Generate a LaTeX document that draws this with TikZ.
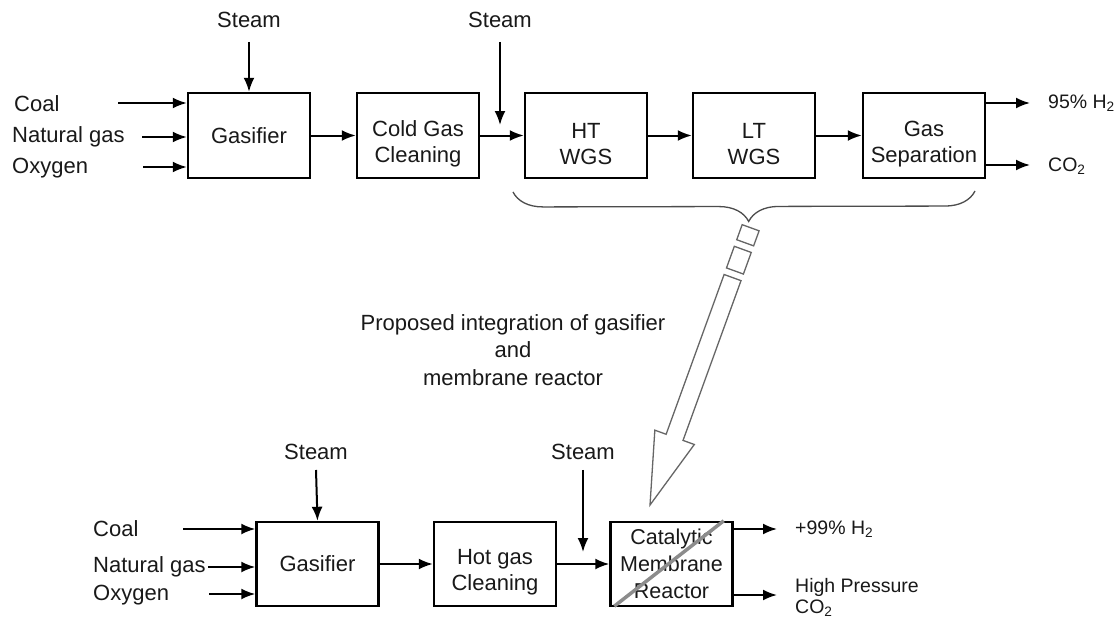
\documentclass[tikz,border=0pt]{standalone}
\usepackage{fontspec}
\setmainfont{Liberation Sans}
\usetikzlibrary{arrows.meta,decorations.pathreplacing}

% first line pushed up so that two-line labels sit a little low in the box
\newcommand{\twolines}[2]{\rule{0pt}{32pt}#1\\#2}

\begin{document}
\begin{tikzpicture}[x=1pt,y=-1pt,
    unit/.style={draw,line width=2.4pt,minimum width=122pt,minimum height=85pt,
                 inner sep=0pt,align=center,text=black!90,
                 font=\fontsize{22}{26}\selectfont},
    lbl/.style={inner sep=2pt,text=black!90,font=\fontsize{22}{26}\selectfont},
    outlbl/.style={inner sep=2pt,anchor=west,align=left,text=black!90,
                   font=\fontsize{19.5}{21}\selectfont},
    flow/.style={line width=2pt,-{Latex[length=14pt,width=11pt]}}]

    \fill[white] (0,0) rectangle (1119,618);

    % conventional line
    \node[unit] (gasA)   at (249,135.5) {Gasifier};
    \node[unit] (cleanA) at (418,135.5) {\twolines{Cold Gas}{Cleaning}};
    \node[unit] (htwgs)  at (586,135.5) {\twolines{HT}{WGS}};
    \node[unit] (ltwgs)  at (754,135.5) {\twolines{LT}{WGS}};
    \node[unit] (gassep) at (924,135.5) {\twolines{Gas}{Separation}};

    \node[lbl,anchor=west] (coalA) at (12,104) {Coal};
    \node[lbl,anchor=west] (natA)  at (10,137) {Natural gas};
    \node[lbl,anchor=west] (oxyA)  at (10,168) {Oxygen};
    \coordinate (coalAin) at (118,103);
    \coordinate (natAin)  at (142,137);
    \coordinate (oxyAin)  at (143,167);
    \draw[flow] (coalAin) -- (coalAin -| gasA.west);
    \draw[flow] (natAin) -- (natAin -| gasA.west);
    \draw[flow] (oxyAin) -- (oxyAin -| gasA.west);

    \node[lbl] (steamA) at (249,20) {Steam};
    \node[lbl] (steamB) at (500,20) {Steam};
    \coordinate (steamBend) at (500,125);
    \draw[flow] ([yshift=-12pt]steamA.south) -- (gasA.north);
    \draw[flow] ([yshift=-12pt]steamB.south) -- (steamBend);

    \draw[flow] (gasA) -- (cleanA);
    \draw[flow] (cleanA) -- (htwgs);
    \draw[flow] (htwgs) -- (ltwgs);
    \draw[flow] (ltwgs) -- (gassep);

    \coordinate (h2Aend)  at (1030,103);
    \coordinate (co2Aend) at (1030,165);
    \draw[flow] (h2Aend -| gassep.east) -- (h2Aend);
    \draw[flow] (co2Aend -| gassep.east) -- (co2Aend);
    \node[outlbl] (h2A)  at (1046,103) {95\% H\textsubscript{2}};
    \node[outlbl] (co2A) at (1046,166) {CO\textsubscript{2}};

    % brace over the shift and separation steps
    \coordinate (braceR) at (975,191);
    \coordinate (braceL) at (513,192);
    \draw[black!70,line width=1.3pt,decorate,
          decoration={brace,amplitude=30pt,aspect=0.49}] (braceR) -- (braceL);

    % hollow broken arrow down to the membrane reactor
    \begin{scope}[shift={(752,224)},x={(-0.3411pt,-0.9398pt)},y={(0.9398pt,-0.3411pt)},
                  draw=black!60,fill=white,line width=1.3pt]
        \filldraw (4,-9) -- (20,-9) -- (20,9) -- (4,9) -- cycle;
        \filldraw (27,-9) -- (50,-9) -- (50,9) -- (27,9) -- cycle;
        \filldraw (57,-9) -- (227,-9) -- (227,-21) -- (299,0)
                  -- (227,21) -- (227,9) -- (57,9) -- cycle;
    \end{scope}

    \node[lbl,align=center,font=\fontsize{22}{27.5}\selectfont] (note) at (513,350)
        {Proposed integration of gasifier\\and\\membrane reactor};

    % integrated line
    \node[unit,minimum height=84pt] (gasB)   at (317.5,564) {Gasifier};
    \node[unit,minimum height=84pt] (cleanB) at (495,564) {\twolines{Hot gas}{Cleaning}};
    \node[unit,minimum height=84pt,font=\fontsize{21.5}{27}\selectfont] (cmr) at (671.5,564)
        {Catalytic\\Membrane\\Reactor};
    \draw[black!45,line width=3.5pt] ([xshift=5pt,yshift=1pt]cmr.south west)
        -- ([xshift=-10pt]cmr.north east);

    \node[lbl,anchor=west] (coalB) at (91,529) {Coal};
    \node[lbl,anchor=west] (natB)  at (91,567) {Natural gas};
    \node[lbl,anchor=west] (oxyB)  at (91,595) {Oxygen};
    \coordinate (coalBin) at (183,529);
    \coordinate (oxyBin)  at (209,594);
    \draw[flow] (coalBin) -- (coalBin -| gasB.west);
    \draw[flow] (natB.east) -- (natB.east -| gasB.west);
    \draw[flow] (oxyBin) -- (oxyBin -| gasB.west);

    \node[lbl] (steamC) at (316,452) {Steam};
    \node[lbl] (steamD) at (583,452) {Steam};
    \coordinate (steamDend) at (583,552);
    \draw[flow] ([yshift=-8pt]steamC.south) -- (gasB.north);
    \draw[flow] ([yshift=-8pt]steamD.south) -- (steamDend);

    \draw[flow] (gasB) -- (cleanB);
    \draw[flow] (cleanB) -- (cmr);

    \coordinate (h2Bend)  at (777,529);
    \coordinate (co2Bend) at (777,595);
    \draw[flow] (h2Bend -| cmr.east) -- (h2Bend);
    \draw[flow] (co2Bend -| cmr.east) -- (co2Bend);
    \node[outlbl] (h2B)  at (793,529) {+99\% H\textsubscript{2}};
    \node[outlbl] (co2B) at (793,597) {High Pressure\\CO\textsubscript{2}};
\end{tikzpicture}
\end{document}
